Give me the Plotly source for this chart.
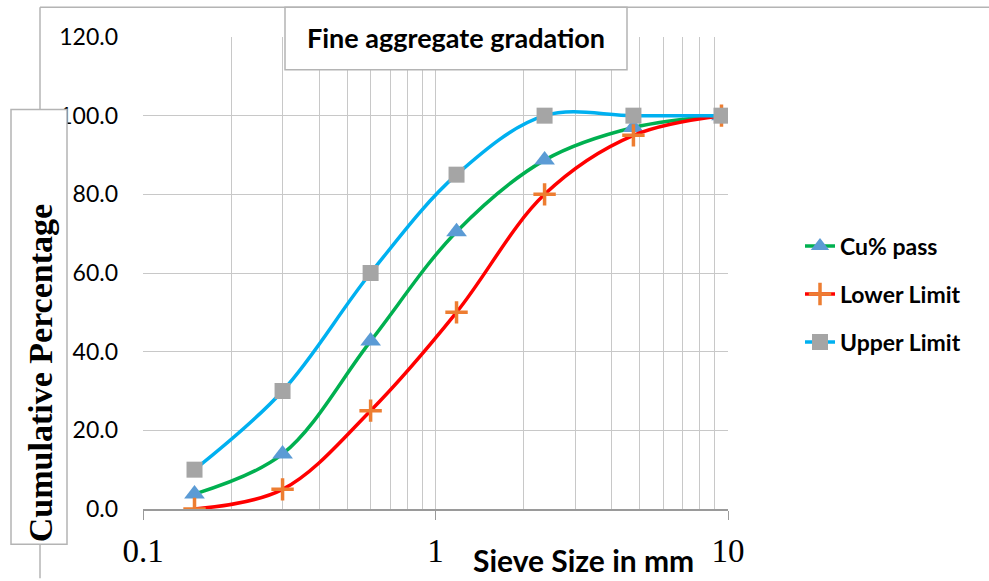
import plotly.graph_objects as go

sieve_mm = [0.15, 0.3, 0.6, 1.18, 2.36, 4.75, 9.5]
cu_pass = [3.8, 14.0, 42.7, 70.5, 88.7, 97.0, 100.0]
lower_limit = [0.0, 5.0, 25.0, 50.0, 80.0, 95.0, 100.0]
upper_limit = [10.0, 30.0, 60.0, 85.0, 100.0, 100.0, 100.0]

x_ticks = [0.1, 1, 10]
x_tick_labels = ["0.1", "1", "10"]
minor_ticks = [0.2, 0.3, 0.4, 0.5, 0.6, 0.7, 0.8, 0.9, 2, 3, 4, 5, 6, 7, 8, 9]
y_ticks = [0, 20, 40, 60, 80, 100, 120]

GRID = "#c8c8c8"
SANS = "Lato"
SERIF = "Liberation Serif"

fig = go.Figure()
fig.add_trace(go.Scatter(
    x=sieve_mm, y=cu_pass, name="<b>Cu% pass</b>", mode="lines+markers",
    line=dict(color="#00B050", width=3.5, shape="spline"),
    marker=dict(symbol="triangle-up", size=18, color="#5B9BD5"),
    legendgroup="a"))
fig.add_trace(go.Scatter(
    x=sieve_mm, y=lower_limit, name="<b>Lower Limit</b>", mode="lines+markers",
    line=dict(color="#FF0000", width=3.5, shape="spline"),
    marker=dict(symbol="cross-thin", size=16, color="#ED7D31",
                line=dict(color="#ED7D31", width=3.5)),
    legendgroup="b"))
fig.add_trace(go.Scatter(
    x=sieve_mm, y=upper_limit, name="<b>Upper Limit</b>", mode="lines+markers",
    line=dict(color="#00B0F0", width=3.5, shape="spline"),
    marker=dict(symbol="square", size=16, color="#A5A5A5"),
    legendgroup="c"))

L, R, T, B = 143, 728, 37, 511.5
W, H = 989, 581


def px(xp):
    return (xp - L) / (R - L)


def py(yp):
    return (B - yp) / (B - T)


shapes = [
    dict(type="line", xref="paper", yref="paper", x0=px(40), x1=px(989), y0=py(7), y1=py(7),
         line=dict(color="#b4b4b4", width=1.5)),
    dict(type="line", xref="paper", yref="paper", x0=px(40), x1=px(40), y0=py(7), y1=py(581),
         line=dict(color="#b4b4b4", width=1.5)),
    dict(type="line", xref="paper", yref="paper", x0=0.5, x1=0.5, y0=0, y1=1,
         line=dict(color="#8c8c8c", width=1), layer="below"),
    dict(type="rect", xref="paper", yref="paper", x0=px(285), x1=px(627), y0=py(7), y1=py(70),
         fillcolor="white", line=dict(color="#b4b4b4", width=1.5), layer="above"),
    dict(type="rect", xref="paper", yref="paper", x0=px(11), x1=px(67), y0=py(110), y1=py(547),
         fillcolor="white", line=dict(color="#b4b4b4", width=1.5), layer="above"),
]

annotations = [
    dict(text="<b>Fine aggregate gradation</b>", xref="paper", yref="paper",
         x=px(456), y=py(37), showarrow=False, xanchor="center", yanchor="middle",
         font=dict(family=SANS, size=27, color="black")),
    dict(text="<b>Cumulative Percentage</b>", xref="paper", yref="paper",
         x=px(40), y=py(375), showarrow=False, textangle=-90, xanchor="center", yanchor="middle",
         font=dict(family=SERIF, size=34, color="black")),
    dict(text="<b>Sieve Size in mm</b>", xref="paper", yref="paper",
         x=px(583), y=py(563), showarrow=False, xanchor="center", yanchor="middle",
         font=dict(family=SANS, size=30, color="black")),
]

fig.update_layout(
    width=W, height=H,
    margin=dict(l=L, r=W - R, t=T, b=H - B, pad=0),
    paper_bgcolor="white", plot_bgcolor="white",
    shapes=shapes, annotations=annotations,
    showlegend=True,
    legend=dict(x=px(800), y=py(247) + 0.045, xanchor="left", yanchor="top",
                font=dict(family=SANS, size=23, color="black"),
                tracegroupgap=15, bgcolor="rgba(0,0,0,0)"),
    xaxis=dict(type="log", range=[-1, 1], tickmode="array", tickvals=x_ticks,
               ticktext=x_tick_labels, showgrid=True, gridcolor=GRID, gridwidth=1,
               minor=dict(tickmode="array", tickvals=minor_ticks, showgrid=True,
                          gridcolor=GRID, gridwidth=1, ticks=""),
               showline=True, linecolor="#9a9a9a", linewidth=1.5,
               ticks="outside", ticklen=9, tickcolor="#9a9a9a",
               tickfont=dict(family=SERIF, size=33, color="black"),
               ticklabelstandoff=3, zeroline=False, fixedrange=True),
    yaxis=dict(range=[0, 120], tickmode="array", tickvals=y_ticks, tickformat=".1f",
               showgrid=True, gridcolor=GRID, gridwidth=1, showline=False,
               ticks="", tickfont=dict(family=SANS, size=23, color="black"),
               ticklabelstandoff=24, zeroline=False, fixedrange=True),
)

fig.write_html("out.html", post_script="document.body.style.margin='0';",
               config={"displayModeBar": False})
